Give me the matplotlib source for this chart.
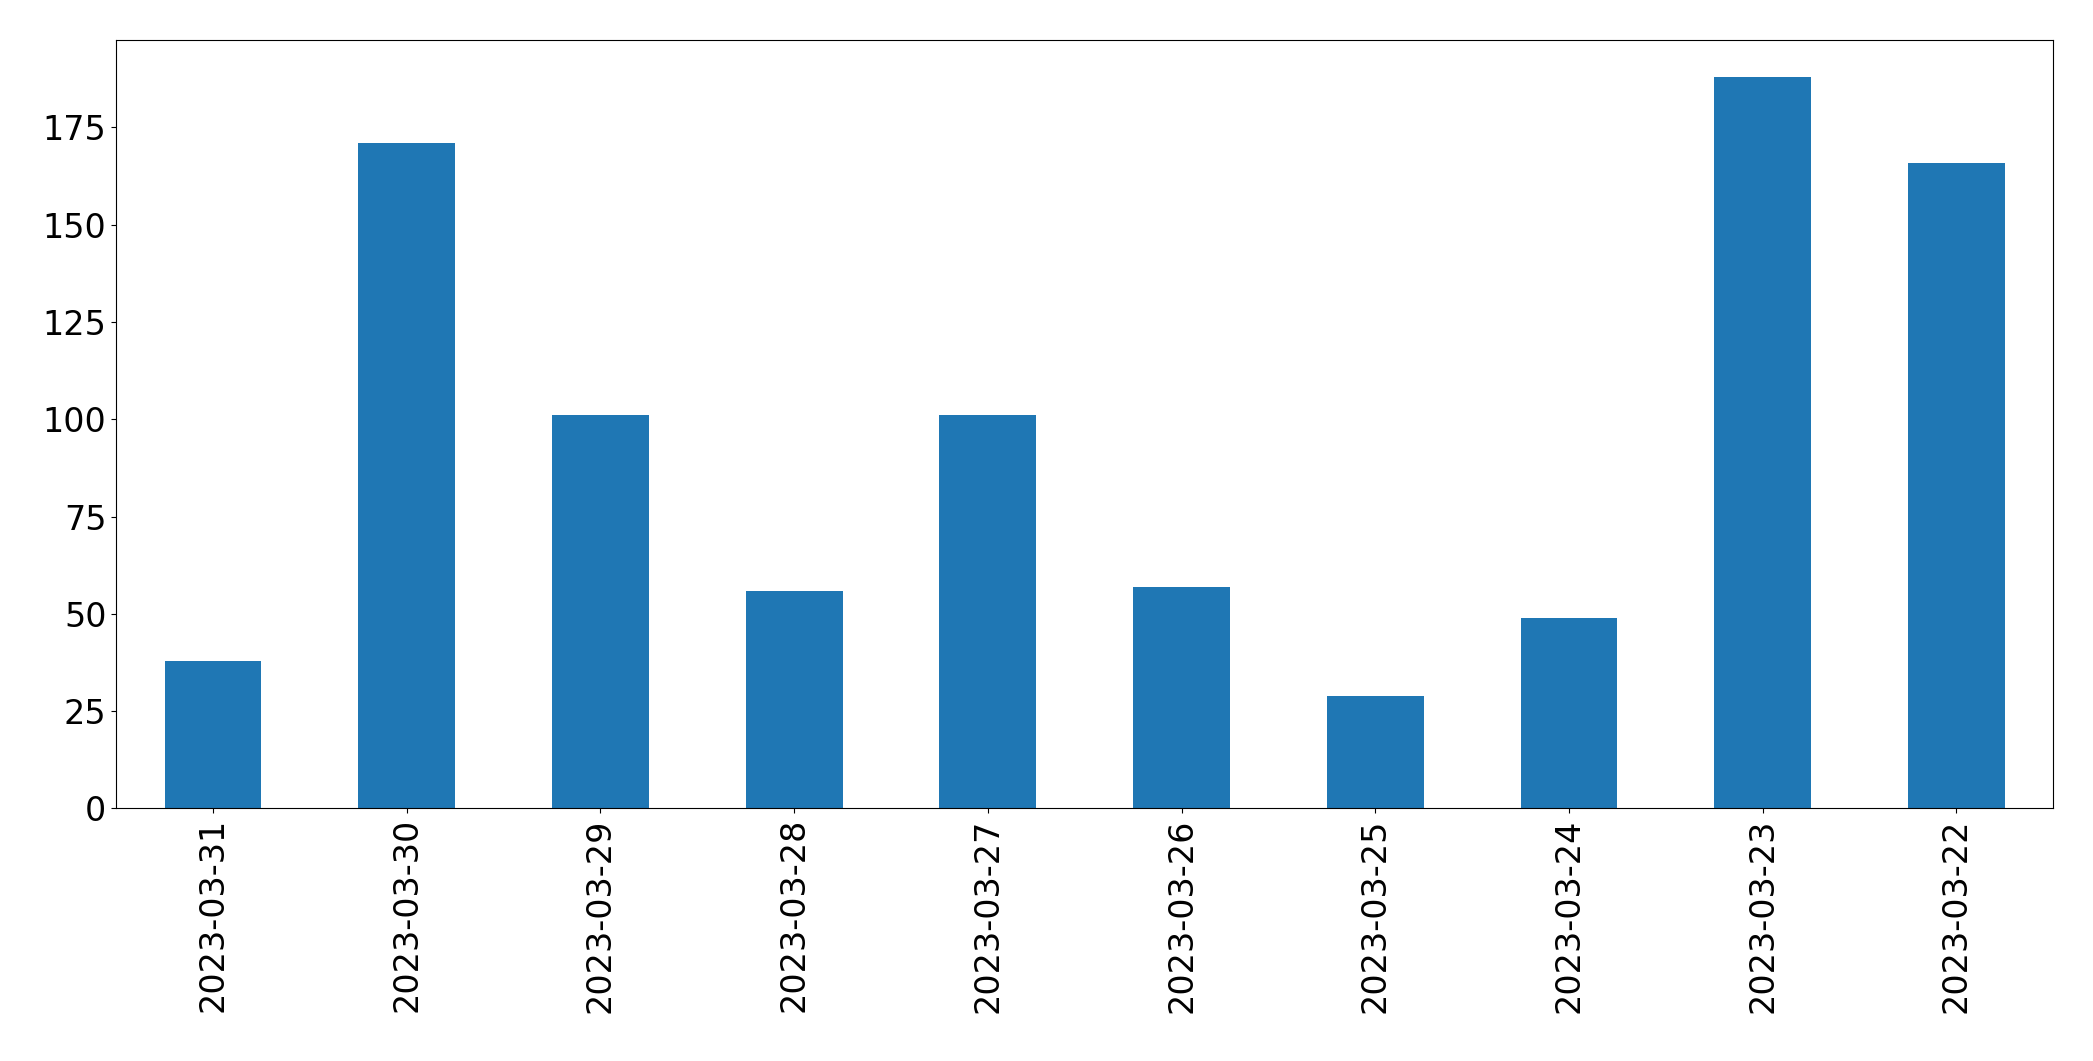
import matplotlib
matplotlib.use("Agg")
import matplotlib.pyplot as plt
import numpy as np

dates = ["2023-03-31","2023-03-30","2023-03-29","2023-03-28","2023-03-27",
         "2023-03-26","2023-03-25","2023-03-24","2023-03-23","2023-03-22"]
counts = [38, 171, 101, 56, 101, 57, 29, 49, 188, 166]

fig = plt.figure(figsize=(20.93, 10.61), dpi=100)
ax = fig.add_axes([0.0555, 0.238, 0.9255, 0.724])
x = np.arange(len(dates))
ax.bar(x, counts, width=0.5, color="#1f77b4")
ax.set_xlim(-0.5, len(dates) - 0.5)
ax.set_ylim(0, max(counts) * 1.05)
ax.set_xticks(x)
ax.set_xticklabels(dates, rotation=90)
ax.tick_params(labelsize=24)
fig.savefig("out.png", dpi=100)
